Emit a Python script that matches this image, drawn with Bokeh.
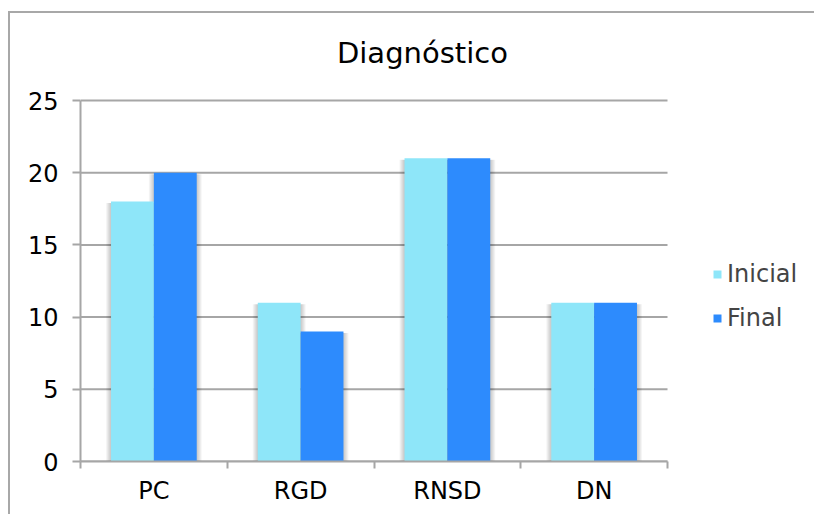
from bokeh.plotting import figure
from bokeh.models import (ColumnDataSource, FixedTicker, Legend, LegendItem, Label, Range1d)
from bokeh.embed import file_html
from bokeh.resources import INLINE

categories = ["PC", "RGD", "RNSD", "DN"]
inicial = [18, 11, 21, 11]
final = [20, 9, 21, 11]
y_ticks = [0, 5, 10, 15, 20, 25]
y_max = 25
series_names = ["Inicial", "Final"]
title_text = "Diagnóstico"

FONT = "DejaVu Sans"
C_INI = "#8ee6f9"
C_FIN = "#2d8bfd"
GRID = "#a6a6a6"

# geometry (pixels)
W, H = 806, 503
LEFT, BOTTOM = 70, 55
PLOT_W, PLOT_H = 587, 361           # size of the real plotting area
FRAME_W, FRAME_H = W - LEFT, H - BOTTOM

n = len(categories)
centers = [i + 0.5 for i in range(n)]
bw = 0.292
dx = n / PLOT_W          # data units per pixel
dy = y_max / PLOT_H

x_end = n * FRAME_W / PLOT_W
y_end = y_max * FRAME_H / PLOT_H

p = figure(width=W, height=H, output_backend="svg", toolbar_location=None,
           x_range=Range1d(0, x_end), y_range=Range1d(0, y_end),
           min_border_left=LEFT, min_border_right=0, min_border_top=0, min_border_bottom=BOTTOM)
p.margin = (11, 0, 0, 8)
p.styles = {"border-left": "2px solid #a8a8a8", "border-top": "2px solid #a8a8a8"}
p.outline_line_color = None
p.background_fill_color = "white"
p.border_fill_color = "white"

# horizontal gridlines, limited to the plotting area
p.segment(x0=[0] * len(y_ticks), x1=[n] * len(y_ticks), y0=y_ticks, y1=y_ticks,
          line_color=GRID, line_width=2)

# soft shadow around bars
left_edges = [c - bw for c in centers]
right_edges = [c + bw for c in centers]
for k in range(1, 6):
    a = 0.045
    p.quad(left=[l - k * dx for l in left_edges], right=[r + k * dx for r in centers],
           top=[v - 1.5 * dy for v in inicial], bottom=[0] * n,
           fill_color="black", fill_alpha=a, line_color=None)
    p.quad(left=[l - k * dx for l in centers], right=[r + k * dx for r in right_edges],
           top=[v - 1.5 * dy for v in final], bottom=[0] * n,
           fill_color="black", fill_alpha=a, line_color=None)

src = ColumnDataSource(dict(
    x_ini=[c - bw / 2 for c in centers],
    x_fin=[c + bw / 2 for c in centers],
    ini=inicial, fin=final,
))
r1 = p.vbar(x="x_ini", top="ini", width=bw, source=src, fill_color=C_INI, line_color=None)
r2 = p.vbar(x="x_fin", top="fin", width=bw, source=src, fill_color=C_FIN, line_color=None)

# axes
p.xaxis.bounds = (0, n)
p.xaxis.ticker = FixedTicker(ticks=centers, minor_ticks=list(range(n + 1)))
p.xaxis.major_label_overrides = {c: lab for c, lab in zip(centers, categories)}
p.xaxis.major_tick_line_color = None
p.xaxis.minor_tick_in = 0
p.xaxis.minor_tick_out = 7
p.xaxis.minor_tick_line_color = GRID
p.xaxis.minor_tick_line_width = 2
p.xaxis.axis_line_color = GRID
p.xaxis.axis_line_width = 2
p.xaxis.major_label_text_font = FONT
p.xaxis.major_label_text_font_size = "24px"
p.xaxis.major_label_text_color = "black"
p.xaxis.major_label_standoff = 8

p.yaxis.bounds = (0, y_max)
p.yaxis.ticker = FixedTicker(ticks=y_ticks)
p.yaxis.minor_tick_line_color = None
p.yaxis.major_tick_in = 0
p.yaxis.major_tick_out = 8
p.yaxis.major_tick_line_color = GRID
p.yaxis.major_tick_line_width = 2
p.yaxis.axis_line_color = GRID
p.yaxis.axis_line_width = 2
p.yaxis.major_label_text_font = FONT
p.yaxis.major_label_text_font_size = "24px"
p.yaxis.major_label_text_color = "black"
p.yaxis.major_label_standoff = 14

p.xgrid.grid_line_color = None
p.ygrid.grid_line_color = None

legend = Legend(items=[LegendItem(label=series_names[0], renderers=[r1]),
                       LegendItem(label=series_names[1], renderers=[r2])],
                location=(632, 129), orientation="vertical")
legend.glyph_width = 10
legend.glyph_height = 10
legend.label_standoff = 5
legend.label_text_font = FONT
legend.label_text_font_size = "24px"
legend.label_height = 28
legend.spacing = 16
legend.padding = 0
legend.margin = 0
legend.border_line_color = None
legend.background_fill_alpha = 0
p.add_layout(legend)

title = Label(x=2.33, y=28.3, text=title_text, text_font=FONT, text_font_size="29px",
              text_align="center", text_baseline="middle", text_color="black")
p.add_layout(title)

open("out.html", "w").write(file_html(p, INLINE))
